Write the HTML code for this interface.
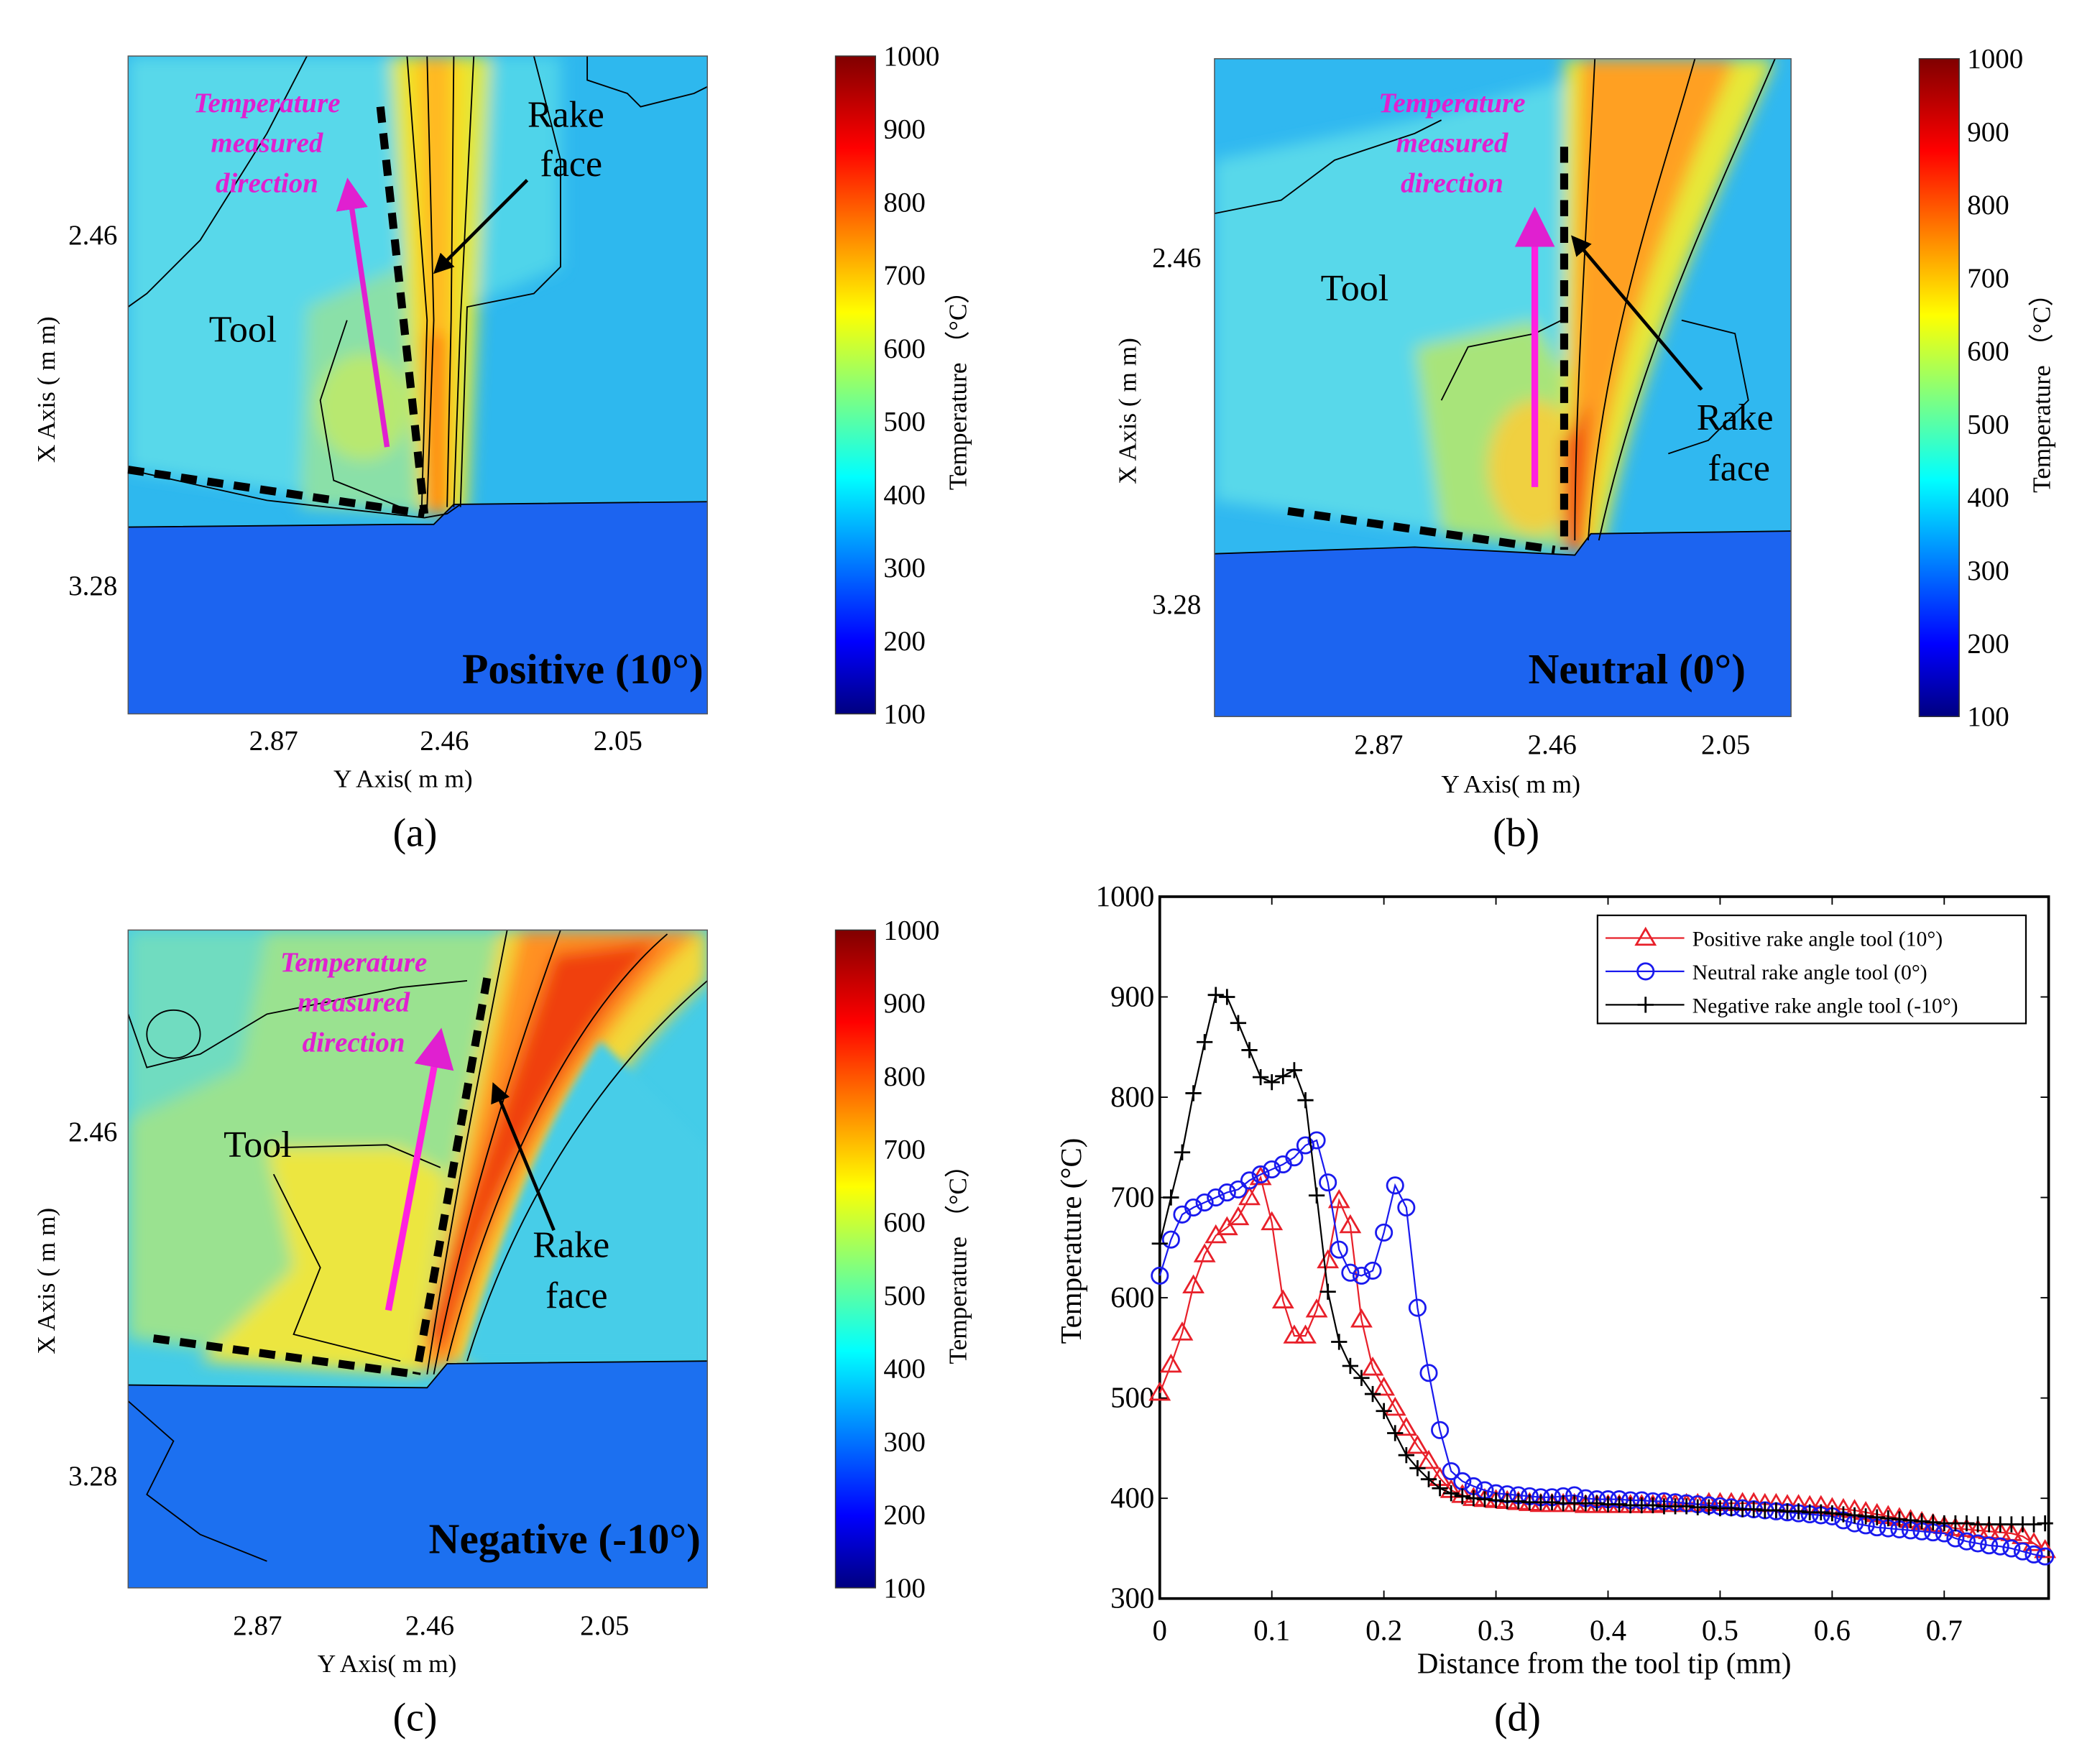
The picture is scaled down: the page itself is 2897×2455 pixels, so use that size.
<!DOCTYPE html>
<html><head><meta charset="utf-8"><style>
html,body{margin:0;padding:0;background:#fff}
svg{display:block}
text{font-family:"Liberation Serif",serif}
</style></head><body>
<svg id="fig" width="2897" height="2455" viewBox="0 0 1560 1322" xmlns="http://www.w3.org/2000/svg">
<defs>
<linearGradient id="jet" x1="0" y1="1" x2="0" y2="0">
<stop offset="0" stop-color="#000080"/><stop offset="0.11" stop-color="#0000ff"/><stop offset="0.36" stop-color="#00ffff"/><stop offset="0.61" stop-color="#ffff00"/><stop offset="0.86" stop-color="#ff0000"/><stop offset="1" stop-color="#800000"/>
</linearGradient>
<filter id="bl" x="-0.2" y="-0.2" width="1.4" height="1.4"><feGaussianBlur stdDeviation="6"/></filter>
<filter id="bl2" x="-0.2" y="-0.2" width="1.4" height="1.4"><feGaussianBlur stdDeviation="3"/></filter>
<clipPath id="ca"><rect x="96" y="42" width="434" height="493"/></clipPath>
<clipPath id="cb"><rect x="910" y="44" width="432" height="493"/></clipPath>
<clipPath id="cc"><rect x="96" y="697" width="434" height="493"/></clipPath>
<marker id="mag" markerWidth="6" markerHeight="6" refX="3" refY="3" orient="auto" markerUnits="strokeWidth"><path d="M0,0 L6,3 L0,6 z" fill="#e020d0"/></marker>
<marker id="blk" markerWidth="6" markerHeight="6" refX="3" refY="3" orient="auto" markerUnits="strokeWidth"><path d="M0,0 L6,3 L0,6 z" fill="#000"/></marker>
</defs>

<!-- Panel A -->
<g>
<g clip-path="url(#ca)">
<rect x="96" y="42" width="434" height="493" fill="#2eb8ee"/>
<g filter="url(#bl)">
<path d="M96,42 L300,42 L318,385 L96,352 Z" fill="#58d8ea"/>
<path d="M300,42 L420,42 L420,200 L350,230 L345,380 L318,385 Z" fill="#50d4ea"/>
<path d="M230,230 L300,200 L318,385 L225,380 Z" fill="#8ae0a8"/>
<ellipse cx="272" cy="305" rx="35" ry="40" fill="#b8e870"/>
<path d="M292,42 L368,42 L350,385 L314,385 Z" fill="#d8e840"/>
<path d="M302,42 L352,42 L342,385 L318,385 Z" fill="#f6e020"/>
<path d="M314,42 L338,42 L336,385 L322,385 Z" fill="#ffb820"/>
<path d="M318,250 L334,250 L334,385 L320,385 Z" fill="#ff8010"/>
</g>
<path d="M96,395 L300,393 L325,393 L340,378 L530,376 L530,535 L96,535 Z" fill="#1c64f0"/>
<g fill="none" stroke="#000" stroke-width="1">
<path d="M96,395 L300,393 L325,393 L340,378 L530,376"/>
<path d="M96,352 L200,375 L318,388 L335,385 L345,378"/>
<path d="M440,42 L440,60 L470,70 L480,80 L520,70 L530,65"/>
<path d="M400,42 L420,120 L420,200 L400,220 L350,230 L345,380"/>
<path d="M230,42 L200,100 L150,180 L110,220 L96,230"/>
<path d="M260,240 L240,300 L250,360 L300,380"/>
<path d="M305,42 L320,240 L316,380"/><path d="M320,42 L325,240 L320,380"/><path d="M340,42 L338,240 L335,380"/><path d="M355,42 L345,240 L340,380"/>
</g>
</g>
<rect x="96" y="42" width="434" height="493" fill="none" stroke="#555" stroke-width="0.8"/>
<line x1="285" y1="80" x2="318" y2="385" stroke="#000" stroke-width="6" stroke-dasharray="12,8"/>
<line x1="96" y1="352" x2="318" y2="385" stroke="#000" stroke-width="6" stroke-dasharray="12,8"/>
<line x1="290" y1="335" x2="262" y2="145" stroke="#e020d0" stroke-width="4" marker-end="url(#mag)"/>
<line x1="395" y1="135" x2="330" y2="200" stroke="#000" stroke-width="2.5" marker-end="url(#blk)"/>
<text x="200" y="84" font-size="21" font-weight="bold" font-style="italic" fill="#e020d0" text-anchor="middle">Temperature</text>
<text x="200" y="114" font-size="21" font-weight="bold" font-style="italic" fill="#e020d0" text-anchor="middle">measured</text>
<text x="200" y="144" font-size="21" font-weight="bold" font-style="italic" fill="#e020d0" text-anchor="middle">direction</text>
<text x="182" y="256" font-size="28" text-anchor="middle">Tool</text>
<text x="424" y="95" font-size="28" text-anchor="middle">Rake</text>
<text x="428" y="132" font-size="28" text-anchor="middle">face</text>
<text x="527" y="512" font-size="32" font-weight="bold" text-anchor="end">Positive (10°)</text>
</g>
<g font-size="21">
<text x="88" y="183" text-anchor="end">2.46</text><text x="88" y="446" text-anchor="end">3.28</text>
<text x="205" y="562" text-anchor="middle">2.87</text><text x="333" y="562" text-anchor="middle">2.46</text><text x="463" y="562" text-anchor="middle">2.05</text>
<text x="302" y="590" text-anchor="middle" font-size="19">Y Axis( m m)</text>
<text x="0" y="0" font-size="19" text-anchor="middle" transform="translate(41,292) rotate(-90)">X Axis ( m m)</text>
<text x="311" y="634" font-size="30" text-anchor="middle">(a)</text>
</g>

<!-- Panel B -->
<g>
<g clip-path="url(#cb)">
<rect x="910" y="44" width="432" height="493" fill="#30b8f0"/>
<g filter="url(#bl)">
<path d="M910,120 L1060,90 L1172,60 L1172,412 L910,375 Z" fill="#58d8ea"/>
<path d="M1060,260 L1150,240 L1172,280 L1172,412 L1080,400 Z" fill="#a8e47a"/>
<ellipse cx="1150" cy="350" rx="35" ry="50" fill="#f0d040"/>
<path d="M1172,44 L1330,44 C1285,150 1230,260 1200,412 L1172,412 Z" fill="#e6e838"/>
<path d="M1185,44 L1300,44 C1255,150 1208,260 1188,412 L1176,412 Z" fill="#ffa020"/>
<path d="M1172,330 L1190,300 L1185,412 L1172,412 Z" fill="#f04010"/>
</g>
<path d="M910,415 L1060,410 L1180,416 L1192,400 L1342,398 L1342,537 L910,537 Z" fill="#1c64f0"/>
<g fill="none" stroke="#000" stroke-width="1">
<path d="M910,415 L1060,410 L1180,416 L1192,400 L1342,398"/>
<path d="M910,160 L960,150 L1000,120 L1060,100 L1080,90"/>
<path d="M1195,44 C1190,150 1180,300 1180,405"/><path d="M1330,44 C1285,150 1230,260 1198,405"/>
<path d="M1270,44 C1240,150 1200,260 1190,405"/>
<path d="M1260,240 L1300,250 L1310,300 L1280,330 L1250,340"/>
<path d="M1080,300 L1100,260 L1150,250 L1170,240"/>
</g>
</g>
<rect x="910" y="44" width="432" height="493" fill="none" stroke="#555" stroke-width="0.8"/>
<line x1="1172" y1="110" x2="1172" y2="412" stroke="#000" stroke-width="6" stroke-dasharray="12,8"/>
<line x1="965" y1="383" x2="1165" y2="412" stroke="#000" stroke-width="6" stroke-dasharray="12,8"/>
<line x1="1150" y1="365" x2="1150" y2="170" stroke="#ff20e0" stroke-width="5" marker-end="url(#mag)"/>
<line x1="1275" y1="292" x2="1182" y2="182" stroke="#000" stroke-width="2.5" marker-end="url(#blk)"/>
<text x="1088" y="84" font-size="21" font-weight="bold" font-style="italic" fill="#e020d0" text-anchor="middle">Temperature</text>
<text x="1088" y="114" font-size="21" font-weight="bold" font-style="italic" fill="#e020d0" text-anchor="middle">measured</text>
<text x="1088" y="144" font-size="21" font-weight="bold" font-style="italic" fill="#e020d0" text-anchor="middle">direction</text>
<text x="1015" y="225" font-size="28" text-anchor="middle">Tool</text>
<text x="1300" y="322" font-size="28" text-anchor="middle">Rake</text>
<text x="1303" y="360" font-size="28" text-anchor="middle">face</text>
<text x="1308" y="512" font-size="32" font-weight="bold" text-anchor="end">Neutral (0°)</text>
</g>
<g font-size="21">
<text x="900" y="200" text-anchor="end">2.46</text><text x="900" y="460" text-anchor="end">3.28</text>
<text x="1033" y="565" text-anchor="middle">2.87</text><text x="1163" y="565" text-anchor="middle">2.46</text><text x="1293" y="565" text-anchor="middle">2.05</text>
<text x="1132" y="594" text-anchor="middle" font-size="19">Y Axis( m m)</text>
<text x="0" y="0" font-size="19" text-anchor="middle" transform="translate(851,308) rotate(-90)">X Axis ( m m)</text>
<text x="1136" y="634" font-size="30" text-anchor="middle">(b)</text>
</g>

<!-- Panel C -->
<g>
<g clip-path="url(#cc)">
<rect x="96" y="697" width="434" height="493" fill="#44cce8"/>
<g filter="url(#bl)">
<path d="M96,697 L375,697 L312,1030 L96,1003 Z" fill="#9ae290"/>
<path d="M96,697 L200,697 L180,800 L96,840 Z" fill="#70dcc0"/>
<path d="M200,860 L300,860 L335,880 L312,1030 L150,1020 L220,950 Z" fill="#ece640"/>
<path d="M375,697 L530,697 L530,735 C465,795 395,890 352,1020 L312,1030 Z" fill="#f2d838"/>
<path d="M390,697 L525,697 C450,765 380,875 340,1020 L315,1025 Z" fill="#ff9020"/>
<path d="M415,715 L495,705 C435,770 368,880 332,1012 L318,1000 Z" fill="#f04010"/>
</g>
<path d="M450,780 C480,810 510,840 530,860 L530,1020 L348,1020 C375,920 410,840 450,780 Z" fill="#46cde8" filter="url(#bl2)"/>
<path d="M96,1038 L320,1040 L335,1022 L530,1020 L530,1190 L96,1190 Z" fill="#1c70f0"/>
<g fill="none" stroke="#000" stroke-width="1">
<path d="M96,1038 L320,1040 L335,1022 L530,1020"/>
<path d="M380,697 C360,800 340,900 320,1030"/><path d="M530,735 C460,795 390,890 350,1020"/>
<path d="M420,697 C390,780 350,900 325,1030"/><path d="M500,700 C430,760 370,880 335,1020"/>
<path d="M210,860 L290,858 L330,875"/><path d="M205,880 L240,950 L220,1000 L300,1020"/>
<ellipse cx="130" cy="775" rx="20" ry="18"/>
<path d="M96,760 L110,800 L150,790 L200,760 L250,750 L300,740 L350,735"/>
<path d="M96,1050 L130,1080 L110,1120 L150,1150 L200,1170"/>
</g>
</g>
<rect x="96" y="697" width="434" height="493" fill="none" stroke="#555" stroke-width="0.8"/>
<line x1="365" y1="733" x2="312" y2="1030" stroke="#000" stroke-width="6" stroke-dasharray="12,8"/>
<line x1="115" y1="1003" x2="312" y2="1030" stroke="#000" stroke-width="6" stroke-dasharray="12,8"/>
<line x1="291" y1="982" x2="328" y2="785" stroke="#ff20e0" stroke-width="5" marker-end="url(#mag)"/>
<line x1="415" y1="922" x2="372" y2="818" stroke="#000" stroke-width="2.5" marker-end="url(#blk)"/>
<text x="265" y="728" font-size="21" font-weight="bold" font-style="italic" fill="#e020d0" text-anchor="middle">Temperature</text>
<text x="265" y="758" font-size="21" font-weight="bold" font-style="italic" fill="#e020d0" text-anchor="middle">measured</text>
<text x="265" y="788" font-size="21" font-weight="bold" font-style="italic" fill="#e020d0" text-anchor="middle">direction</text>
<text x="193" y="867" font-size="28" text-anchor="middle">Tool</text>
<text x="428" y="942" font-size="28" text-anchor="middle">Rake</text>
<text x="432" y="980" font-size="28" text-anchor="middle">face</text>
<text x="525" y="1164" font-size="32" font-weight="bold" text-anchor="end">Negative (-10°)</text>
</g>
<g font-size="21">
<text x="88" y="855" text-anchor="end">2.46</text><text x="88" y="1113" text-anchor="end">3.28</text>
<text x="193" y="1225" text-anchor="middle">2.87</text><text x="322" y="1225" text-anchor="middle">2.46</text><text x="453" y="1225" text-anchor="middle">2.05</text>
<text x="290" y="1253" text-anchor="middle" font-size="19">Y Axis( m m)</text>
<text x="0" y="0" font-size="19" text-anchor="middle" transform="translate(41,960) rotate(-90)">X Axis ( m m)</text>
<text x="311" y="1297" font-size="30" text-anchor="middle">(c)</text>
</g>

<g id="colorbars"></g>
<g id="chartd"></g>
</svg>
<script>
const NS="http://www.w3.org/2000/svg";
const cbTicks=[100,200,300,400,500,600,700,800,900,1000];
const distance=[0,0.01,0.02,0.03,0.04,0.05,0.06,0.07,0.08,0.09,0.1,0.11,0.12,0.13,0.14,0.15,0.16,0.17,0.18,0.19,0.2,0.21,0.22,0.23,0.24,0.25,0.26,0.27,0.28,0.29,0.3,0.31,0.32,0.33,0.34,0.35,0.36,0.37,0.38,0.39,0.4,0.41,0.42,0.43,0.44,0.45,0.46,0.47,0.48,0.49,0.5,0.51,0.52,0.53,0.54,0.55,0.56,0.57,0.58,0.59,0.6,0.61,0.62,0.63,0.64,0.65,0.66,0.67,0.68,0.69,0.7,0.71,0.72,0.73,0.74,0.75,0.76,0.77,0.78,0.79];
const positiveTemp=[505,533,565,612,643,662,670,680,700,720,675,597,562,562,588,637,697,672,578,530,510,490,470,452,437,420,408,403,400,399,398,397,396,395,394,394,394,394,393,393,393,393,393,393,393,394,394,394,394,395,395,395,395,395,394,394,393,393,392,392,390,389,388,386,384,382,380,378,376,374,372,370,369,368,367,366,365,362,355,348];
const neutralTemp=[622,658,683,690,695,700,705,708,717,723,728,733,740,752,757,715,648,625,622,627,665,712,690,590,525,468,427,417,412,408,405,404,403,402,401,401,402,403,400,399,399,399,398,398,397,397,396,395,394,393,392,391,390,389,388,387,386,385,384,383,382,378,375,373,371,370,369,368,367,366,365,360,357,355,353,352,350,347,344,342];
const negativeTemp=[654,700,745,804,855,902,900,874,847,820,815,821,827,797,702,606,556,532,520,504,487,465,443,430,419,410,405,402,400,399,398,397,397,396,396,396,395,395,395,395,394,394,393,393,393,392,392,392,391,391,390,390,389,389,388,388,387,387,386,386,385,384,383,382,381,380,379,378,377,376,375,375,375,374,374,374,374,374,374,375];
const xTicks=[0,0.1,0.2,0.3,0.4,0.5,0.6,0.7];
const yTicks=[300,400,500,600,700,800,900,1000];
const legendLabels=["Positive rake angle tool (10°)","Neutral rake angle tool (0°)","Negative rake angle tool (-10°)"];

function mk(tag,attrs,parent){const e=document.createElementNS(NS,tag);for(const k in attrs)e.setAttribute(k,attrs[k]);parent.appendChild(e);return e;}

const cbg=document.getElementById('colorbars');
[[626,42,'a'],[1438,44,'b'],[626,697,'c']].forEach(([x,y,id])=>{
  const g=mk('g',{},cbg);
  
  
  mk('rect',{x:x,y:y,width:30,height:493,fill:'url(#jet)',stroke:'#333','stroke-width':0.8},g);
  const cy=v=>y+493-(v-100)/900*493;
  cbTicks.forEach(v=>{
    const t=mk('text',{x:x+36,y:cy(v)+7,'font-size':21},g);
    
    
    t.textContent=v;
  });
  const lab=mk('text',{transform:`translate(${x+98},${y+246}) rotate(-90)`,'text-anchor':'middle','font-size':19},g);
  
  
  lab.textContent='Temperature （°C）';
});

const cd=document.getElementById('chartd');
const L=869,R=1535,T=672,B=1198,XMAX=0.79;
const sx=v=>L+v/XMAX*(R-L)*0.996;
const sy=v=>B-(v-300)/700*(B-T);
mk('rect',{x:L,y:T,width:R-L,height:B-T,fill:'#fff',stroke:'#000','stroke-width':2},cd);
xTicks.forEach(v=>{
  mk('line',{x1:sx(v),x2:sx(v),y1:B,y2:B-6,stroke:'#000','stroke-width':1},cd);
  mk('line',{x1:sx(v),x2:sx(v),y1:T,y2:T+6,stroke:'#000','stroke-width':1},cd);
  const t=mk('text',{x:sx(v),y:B+31,'font-size':22,'text-anchor':'middle'},cd);
  
  
  t.textContent=v;
});
yTicks.forEach(v=>{
  mk('line',{x1:L,x2:L+6,y1:sy(v),y2:sy(v),stroke:'#000','stroke-width':1},cd);
  mk('line',{x1:R,x2:R-6,y1:sy(v),y2:sy(v),stroke:'#000','stroke-width':1},cd);
  const t=mk('text',{x:L-4,y:sy(v)+7,'font-size':22,'text-anchor':'end'},cd);
  
  
  t.textContent=v;
});
const xt=mk('text',{x:(L+R)/2,y:1254,'font-size':22,'text-anchor':'middle'},cd);


xt.textContent='Distance from the tool tip (mm)';
const yt=mk('text',{transform:`translate(810,930) rotate(-90)`,'font-size':22,'text-anchor':'middle'},cd);


yt.textContent='Temperature (°C)';
const cap=mk('text',{x:1137,y:1297,'font-size':30,'text-anchor':'middle'},cd);


cap.textContent='(d)';

function marker(g,type,x,y,color){
  if(type==='tri') mk('path',{d:`M${x},${y-7} L${x+7},${y+5} L${x-7},${y+5} Z`,fill:'none',stroke:color,'stroke-width':1.5},g);
  else if(type==='circ') mk('circle',{cx:x,cy:y,r:6,fill:'none',stroke:color,'stroke-width':1.5},g);
  else { mk('line',{x1:x-6,x2:x+6,y1:y,y2:y,stroke:color,'stroke-width':1.5},g); mk('line',{x1:x,x2:x,y1:y-6,y2:y+6,stroke:color,'stroke-width':1.5},g); }
}
const series=[[positiveTemp,'#e8202a','tri','series-positive'],[neutralTemp,'#1a1aee','circ','series-neutral'],[negativeTemp,'#000','plus','series-negative']];
series.forEach(([vals,col,m,name])=>{
  const g=mk('g',{},cd);
  
  
  const pts=vals.map((v,i)=>sx(distance[i])+','+sy(v)).join(' ');
  mk('polyline',{points:pts,fill:'none',stroke:col,'stroke-width':1.2},g);
  vals.forEach((v,i)=>marker(g,m,sx(distance[i]),sy(v),col));
});
const lg=mk('g',{},cd);


mk('rect',{x:1197,y:686,width:321,height:81,fill:'#fff',stroke:'#000','stroke-width':1.2},lg);
series.forEach(([vals,col,m],i)=>{
  const y=703+i*25;
  const e=mk('g',{},lg);
  
  
  mk('line',{x1:1203,x2:1262,y1:y,y2:y,stroke:col,'stroke-width':1.2},e);
  marker(e,m,1233,y,col);
  const t=mk('text',{x:1268,y:y+6,'font-size':16},e);
  t.textContent=legendLabels[i];
});
</script>
</body></html>
